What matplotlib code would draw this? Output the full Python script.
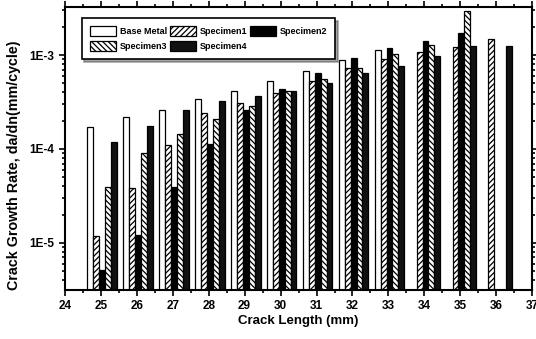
import numpy as np
import matplotlib
matplotlib.use('Agg')
import matplotlib.pyplot as plt
from matplotlib.ticker import LogLocator, NullFormatter, FixedLocator, MultipleLocator

plt.rcParams['font.family'] = ['Liberation Sans', 'DejaVu Sans']
plt.rcParams['font.weight'] = 'bold'
plt.rcParams['hatch.linewidth'] = 0.9

# crack length (mm) and da/dn (mm/cycle)
crack_len = [25, 26, 27, 28, 29, 30, 31, 32, 33, 34, 35, 36]
base_metal = [1.73e-4, 2.18e-4, 2.6e-4, 3.4e-4, 4.1e-4, 5.25e-4, 6.75e-4, 8.85e-4, 1.12e-3, None, None, None]
specimen1 = [1.17e-5, 3.8e-5, 1.1e-4, 2.4e-4, 3.06e-4, 3.9e-4, 5.3e-4, 7.2e-4, 9.0e-4, 1.08e-3, 1.23e-3, 1.47e-3]
specimen2 = [5.1e-6, 1.2e-5, 3.9e-5, 1.12e-4, 2.6e-4, 4.4e-4, 6.5e-4, 9.2e-4, 1.2e-3, 1.42e-3, 1.73e-3, None]
specimen3 = [3.97e-5, 9.0e-5, 1.44e-4, 2.1e-4, 2.9e-4, 4.17e-4, 5.55e-4, 7.2e-4, 1.02e-3, 1.28e-3, 2.96e-3, None]
specimen4 = [1.2e-4, 1.76e-4, 2.6e-4, 3.25e-4, 3.67e-4, 4.1e-4, 5.1e-4, 6.4e-4, 7.6e-4, 9.75e-4, 1.26e-3, 1.26e-3]

series = [('Base Metal', base_metal, 'white', ''),
          ('Specimen1', specimen1, 'white', '//////'),
          ('Specimen2', specimen2, 'black', ''),
          ('Specimen3', specimen3, 'white', '\\\\\\\\\\\\'),
          ('Specimen4', specimen4, '#111111', '')]

ymin, ymax = 3.16e-6, 3.24e-3
w = 0.165

fig = plt.figure(figsize=(5.36, 3.39), dpi=100)
ax = fig.add_axes([0.121, 0.145, 0.872, 0.834])

handles = []
for i, (name, vals, col, hat) in enumerate(series):
    xs, hs = [], []
    for x, v in zip(crack_len, vals):
        if v is not None:
            xs.append(x + (i - 2) * w + 0.03)
            hs.append(v - 1e-7)
    b = ax.bar(xs, hs, width=w, bottom=1e-7, color=col, edgecolor='black',
               hatch=hat, linewidth=0.9, label=name)
    handles.append(b)

ax.set_yscale('log')
ax.set_ylim(ymin, ymax)
ax.set_xlim(24, 37)
ax.xaxis.set_major_locator(MultipleLocator(1))
ax.xaxis.set_minor_locator(MultipleLocator(0.5))
ax.yaxis.set_major_locator(FixedLocator([1e-5, 1e-4, 1e-3]))
ax.set_yticklabels(['1E-5', '1E-4', '1E-3'])
ax.yaxis.set_minor_locator(LogLocator(base=10, subs=np.arange(2, 10)))
ax.yaxis.set_minor_formatter(NullFormatter())

ax.tick_params(which='both', direction='out', top=True, right=True, labelsize=8.5, width=1.2)
ax.tick_params(which='major', length=4)
ax.tick_params(which='minor', length=2)
for lab in ax.get_xticklabels() + ax.get_yticklabels():
    lab.set_fontweight('bold')
for sp in ax.spines.values():
    sp.set_linewidth(1.5)

ax.set_xlabel('Crack Length (mm)', fontsize=9.5, fontweight='bold', labelpad=2)
ax.set_ylabel('Crack Growth Rate, da/dn(mm/cycle)', fontsize=10.3, fontweight='bold')
ax.yaxis.set_label_coords(-0.094, 0.44)

# row-wise order: Base Metal, Specimen1, Specimen2 / Specimen3, Specimen4
order = [0, 3, 1, 4, 2]
leg = ax.legend([handles[k] for k in order], [series[k][0] for k in order],
                ncol=3, loc='upper left', bbox_to_anchor=(0.036, 0.961), borderaxespad=0,
                fontsize=6.5, frameon=True, shadow=True, fancybox=False,
                handlelength=2.9, handleheight=1.3, columnspacing=0.3, handletextpad=0.4,
                borderpad=0.9, labelspacing=0.55)
leg.get_frame().set_edgecolor('black')
leg.get_frame().set_linewidth(1.2)
for t in leg.get_texts():
    t.set_fontweight('bold')

fig.savefig('out.png', dpi=100)
